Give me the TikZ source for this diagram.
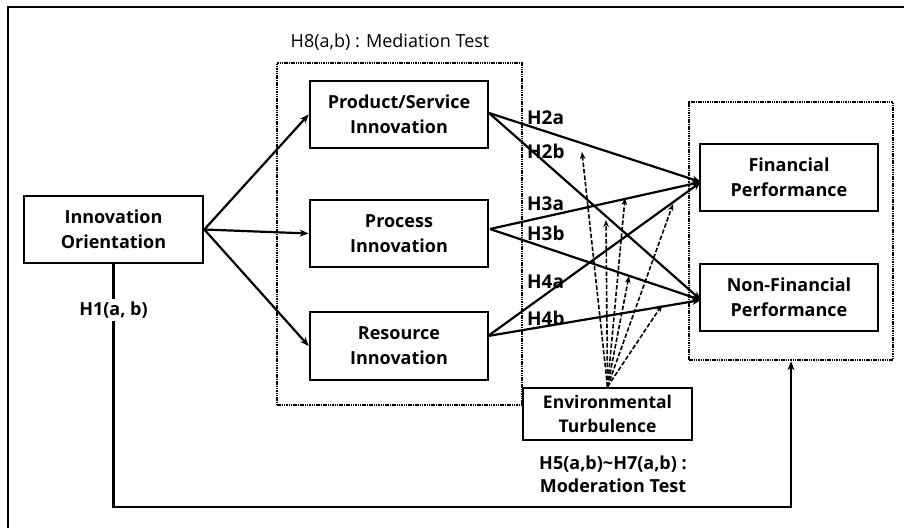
\documentclass[tikz,border=0pt]{standalone}
\usepackage{fontspec}
\setmainfont{Open Sans}
\usetikzlibrary{arrows.meta,calc}
\begin{document}
\begin{tikzpicture}[x=1pt,y=-1pt,
  box/.style={draw,line width=2.6pt,minimum width=178pt,minimum height=67pt,align=center,font=\fontsize{18}{25}\selectfont\bfseries,inner sep=0pt},
  dotbox/.style={draw,line width=2.4pt,dash pattern=on 1.5pt off 0.8pt,inner sep=0pt},
  arr/.style={line width=2.2pt,-{Stealth[length=9pt,width=7pt]}},
  darr/.style={line width=1.6pt,dash pattern=on 4.5pt off 2pt,-{Stealth[length=7pt,width=5.5pt]}},
  hlab/.style={font=\fontsize{19}{22}\selectfont\bfseries,anchor=west,inner sep=0pt},
  plab/.style={font=\fontsize{18}{23}\selectfont\bfseries,align=center,inner sep=1pt}]
\useasboundingbox (0,0) rectangle (904,528);
\fill[white] (0,0) rectangle (904,528);
% outer frame
\draw[line width=1.8pt] (8,528) -- (8,7) -- (904,7);
% dotted group boxes
\node[dotbox,minimum width=245pt,minimum height=342pt] (med) at (399.5,234) {};
\node[dotbox,minimum width=204pt,minimum height=258pt] (perf) at (791,231) {};
% main boxes
\node[box,minimum width=179pt] (io) at (113.5,229.5) {Innovation\\Orientation};
\node[box] (ps) at (399,114.5) {Product/Service\\Innovation};
\node[box] (pr) at (399,233.5) {Process\\Innovation};
\node[box,minimum height=68pt] (rs) at (399,346) {Resource\\Innovation};
\node[box] (fin) at (789,177.5) {Financial\\Performance};
\node[box] (nf) at (789,297.5) {Non-Financial\\Performance};
\node[box,minimum width=169pt,minimum height=52pt,font=\fontsize{17.5}{24}\selectfont\bfseries] (env) at (607.5,414) {Environmental\\Turbulence};
% labels
\node[font=\fontsize{18}{20}\selectfont,inner sep=0pt] (h8) at (390,42) {H8(a,b) : Mediation Test};
\node[plab] (mod) at (613,474) {H5(a,b)\textasciitilde H7(a,b) :\\Moderation Test};
% targets
\coordinate (ft) at (701,182);
\coordinate (nt) at (701,300);
\coordinate (pss) at (489,113);
\coordinate (prs) at (490,229);
\coordinate (rss) at (488,336);
% IO arrows
\draw[arr] (io.east) -- (ps.west);
\draw[arr] (io.east) -- (pr.west);
\draw[arr] (io.east) -- (rs.west);
% paths to performance
\draw[arr] (pss) -- (ft);
\draw[arr] (pss) -- (nt);
\draw[arr] (prs) -- (ft);
\draw[arr] (prs) -- (nt);
\draw[arr] (rss) -- (ft);
\draw[arr] (rss) -- (nt);
% H labels
\node[hlab] (h2a) at (527,118) {H2a};
\node[hlab] (h2b) at (527,151) {H2b};
\node[hlab] (h3a) at (527,204) {H3a};
\node[hlab] (h3b) at (527,233) {H3b};
\node[hlab] (h4a) at (527,282) {H4a};
\node[hlab] (h4b) at (527,318) {H4b};
% moderation dashed arrows
\coordinate (m1) at (582,152);
\coordinate (m2) at (625,198);
\coordinate (m3) at (606,220);
\coordinate (m4) at (673,204);
\coordinate (m5) at (629,276);
\coordinate (m6) at (662,305);
\foreach \m in {m1,m2,m3,m4,m5,m6}{\draw[darr] (env.north) -- (\m);}
% H1 path
\coordinate (base) at (791,507);
\draw[arr] (io.south) |- (base) -- (perf.south);
\node[fill=white,font=\fontsize{18}{20}\selectfont\bfseries,inner sep=3pt] (h1) at (113.5,310) {H1(a, b)};
\end{tikzpicture}
\end{document}
